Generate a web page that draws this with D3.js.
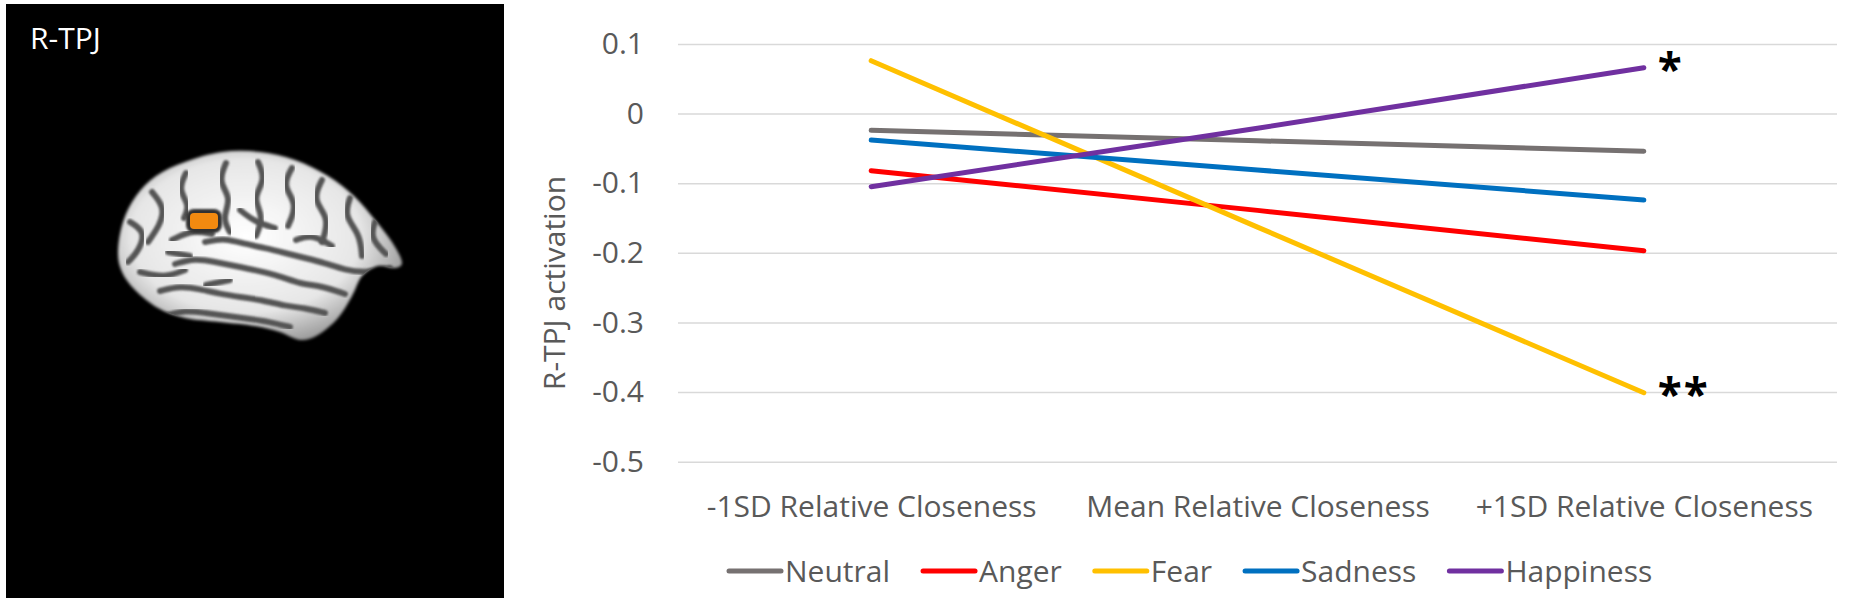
<!DOCTYPE html>
<html>
<head>
<meta charset="utf-8">
<script src="https://cdn.jsdelivr.net/npm/d3@7"></script>
<style>
  body { margin: 0; background: #fff; }
  svg text { font-family: "Open Sans", "DejaVu Sans", sans-serif; }
</style>
</head>
<body>
<div id="chart"></div>
<script>
// chart data
var categories = ["-1SD Relative Closeness", "Mean Relative Closeness", "+1SD Relative Closeness"];
var seriesNames = ["Neutral", "Anger", "Fear", "Sadness", "Happiness"];
var seriesColors = ["#767171", "#ff0000", "#ffc000", "#0070c0", "#7030a0"];
var neutral   = [-0.024, -0.039, -0.054];
var anger     = [-0.082, -0.139, -0.197];
var fear      = [ 0.076, -0.163, -0.401];
var sadness   = [-0.038, -0.081, -0.124];
var happiness = [-0.105, -0.021,  0.066];
var yTicks = [0.1, 0, -0.1, -0.2, -0.3, -0.4, -0.5];
// significance marks at the +1SD end
var marks = [{ series: "Happiness", text: "*" }, { series: "Fear", text: "**" }];

var seriesValues = [neutral, anger, fear, sadness, happiness];

var W = 1850, H = 604;
var svg = d3.select("#chart").append("svg").attr("width", W).attr("height", H);

// ---------------- left panel: brain image ----------------
var defs = svg.append("defs");
var grad = defs.append("radialGradient").attr("id", "brainFill")
    .attr("cx", "45%").attr("cy", "45%").attr("r", "62%");
grad.append("stop").attr("offset", "0%").attr("stop-color", "#ffffff");
grad.append("stop").attr("offset", "65%").attr("stop-color", "#e6e6e6");
grad.append("stop").attr("offset", "100%").attr("stop-color", "#8c8c8c");
defs.append("filter").attr("id", "soft").append("feGaussianBlur").attr("stdDeviation", 1.8);
defs.append("filter").attr("id", "softer").append("feGaussianBlur").attr("stdDeviation", 1.2);

svg.append("rect").attr("x", 6).attr("y", 4).attr("width", 498).attr("height", 594).attr("fill", "#000");

svg.append("text").attr("x", 30).attr("y", 49)
    .attr("fill", "#fff").attr("font-size", 30).text("R-TPJ");

var outline = [[118,252],[123,222],[136,196],[156,176],[185,162],[222,152],[260,152],[295,160],
    [328,176],[355,197],[375,220],[392,242],[402,262],[395,268],[378,266],[362,276],[352,296],
    [338,318],[318,335],[300,340],[280,332],[255,326],[220,322],[185,318],[158,308],[135,290],[122,272]];
var sulci = [
    [[175,264],[195,258],[215,262],[235,266],[255,270],[280,276],[300,284],[322,286],[345,294]],
    [[160,291],[180,286],[200,289],[220,294],[240,297],[262,300],[285,306],[305,308],[325,313]],
    [[165,316],[185,310],[205,313],[228,316],[250,319],[270,322],[290,327]],
    [[205,242],[225,238],[245,244],[265,248],[285,253],[305,258],[325,263],[345,270],[365,273],[390,268]],
    [[152,192],[165,208],[160,225],[148,242]],
    [[186,173],[178,190],[190,205],[184,218]],
    [[226,163],[218,182],[232,198],[222,218],[230,232]],
    [[258,162],[266,180],[252,198],[264,216],[256,236]],
    [[292,168],[282,186],[298,204],[288,226]],
    [[322,180],[312,200],[330,218],[322,242]],
    [[350,198],[344,216],[360,234],[362,256]],
    [[375,222],[370,238],[386,254]],
    [[130,222],[146,232],[138,252],[128,262]],
    [[140,272],[165,278],[185,270]],
    [[172,240],[192,230],[212,234]],
    [[240,210],[255,222],[275,228]],
    [[296,240],[312,234],[332,246]],
    [[168,252],[190,256]],
    [[206,285],[230,280]]
];
var brainShape = d3.line().curve(d3.curveCardinalClosed);
var sulcusLine = d3.line().curve(d3.curveBasis);
defs.append("clipPath").attr("id", "brainClip").append("path").attr("d", brainShape(outline));

var brain = svg.append("g");
brain.append("path").attr("d", brainShape(outline)).attr("fill", "url(#brainFill)").attr("filter", "url(#soft)");
brain.append("g").attr("clip-path", "url(#brainClip)")
  .selectAll("path").data(sulci).enter().append("path")
    .attr("d", function(d) { return sulcusLine(d); })
    .attr("fill", "none").attr("stroke", "#555").attr("stroke-width", 6)
    .attr("stroke-linecap", "round").attr("filter", "url(#softer)");
brain.append("rect").attr("x", 186).attr("y", 209).attr("width", 36).attr("height", 24).attr("rx", 8)
    .attr("fill", "#333").attr("filter", "url(#softer)");
brain.append("rect").attr("x", 190).attr("y", 213).attr("width", 28).attr("height", 16).attr("rx", 4)
    .attr("fill", "#f28a10");

// ---------------- right panel: line chart ----------------
var plotLeft = 678, plotRight = 1837, plotTop = 44, plotBottom = 461.7;
var textColor = "#595959";

var x = d3.scalePoint().domain(categories).range([plotLeft, plotRight]).padding(0.5);
var y = d3.scaleLinear().domain([-0.5, 0.1]).range([plotBottom, plotTop]);

var fmt = function(d) { return Math.abs(d) < 1e-9 ? "0" : d.toFixed(1); };

var yAxis = svg.append("g").attr("transform", "translate(" + plotLeft + ",0)")
    .call(d3.axisLeft(y).tickValues(yTicks).tickFormat(fmt)
        .tickSize(-(plotRight - plotLeft)).tickPadding(34));
yAxis.select(".domain").remove();
yAxis.selectAll("line").attr("stroke", "#d9d9d9").attr("stroke-width", 1.5);
yAxis.selectAll("text").attr("fill", textColor).attr("font-size", 30)
    .attr("font-family", "'Open Sans', sans-serif");

var xAxis = svg.append("g").attr("transform", "translate(0," + plotBottom + ")")
    .call(d3.axisBottom(x).tickSize(0).tickPadding(34));
xAxis.select(".domain").remove();
xAxis.selectAll("text").attr("fill", textColor).attr("font-size", 30)
    .attr("font-family", "'Open Sans', sans-serif");

svg.append("text")
    .attr("transform", "translate(565,283) rotate(-90)")
    .attr("text-anchor", "middle").attr("fill", textColor).attr("font-size", 30)
    .text("R-TPJ activation");

var line = d3.line()
    .x(function(d, i) { return x(categories[i]); })
    .y(function(d) { return y(d); });

svg.append("g").selectAll("path").data(seriesValues).enter().append("path")
    .attr("d", function(d) { return line(d); })
    .attr("fill", "none")
    .attr("stroke", function(d, i) { return seriesColors[i]; })
    .attr("stroke-width", 5)
    .attr("stroke-linecap", "round");

// asterisks
var last = categories[categories.length - 1];
svg.append("g").selectAll("text").data(marks).enter().append("text")
    .attr("x", function(d) { return x(last) + 14; })
    .attr("y", function(d) {
        var v = seriesValues[seriesNames.indexOf(d.series)];
        return y(v[v.length - 1]) + 17;
    })
    .attr("font-size", 44).attr("font-weight", "bold").attr("fill", "#000")
    .attr("letter-spacing", 2)
    .text(function(d) { return d.text; });

// legend
var legend = svg.append("g").attr("transform", "translate(729,0)");
var lx = 0;
seriesNames.forEach(function(name, i) {
    legend.append("line").attr("x1", lx).attr("x2", lx + 52).attr("y1", 571).attr("y2", 571)
        .attr("stroke", seriesColors[i]).attr("stroke-width", 5).attr("stroke-linecap", "round");
    var t = legend.append("text").attr("x", lx + 56).attr("y", 582)
        .attr("fill", textColor).attr("font-size", 30).text(name);
    lx += 56 + t.node().getComputedTextLength() + 33;
});
</script>
</body>
</html>
